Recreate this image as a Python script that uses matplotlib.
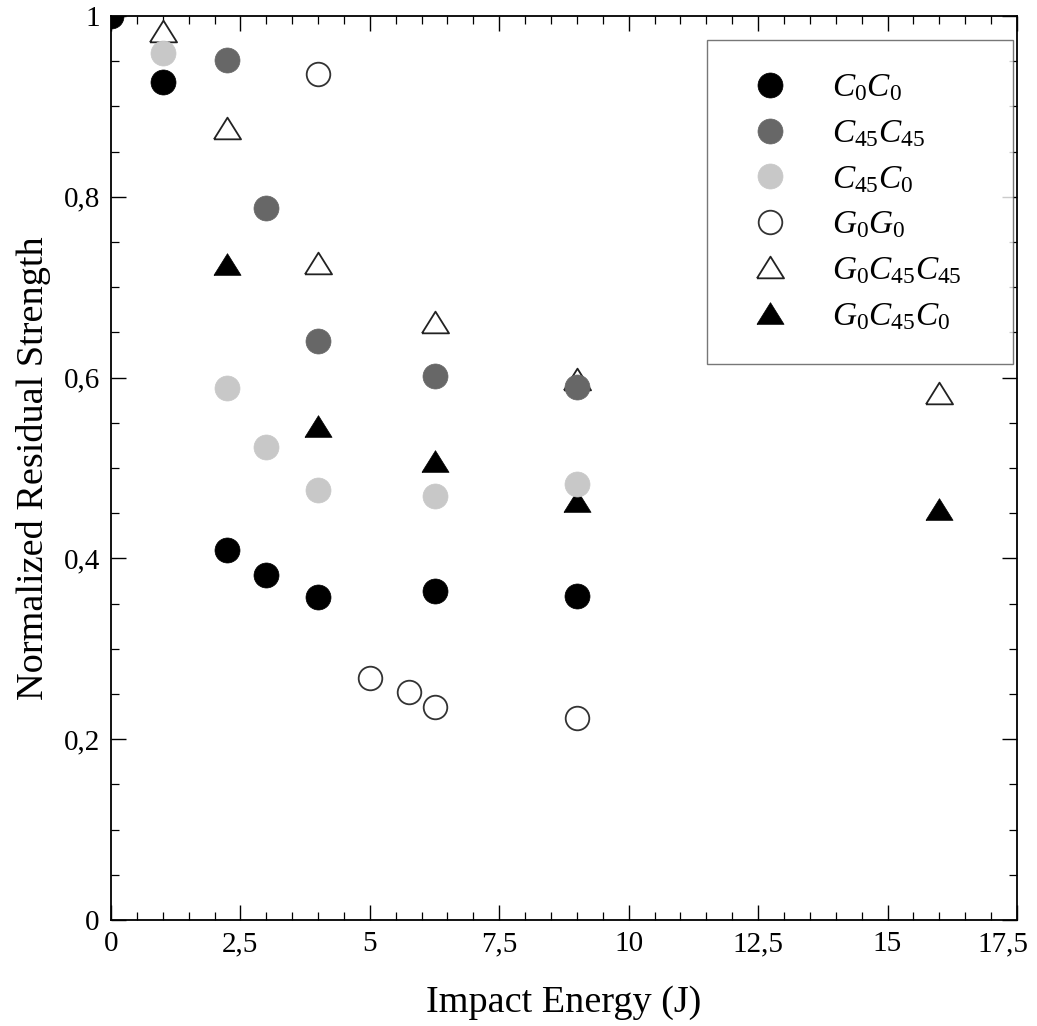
import matplotlib
matplotlib.use("Agg")
import matplotlib.pyplot as plt
from matplotlib.ticker import MultipleLocator, FixedLocator, FixedFormatter
from matplotlib.transforms import ScaledTranslation

plt.rcParams["font.family"] = ["Liberation Serif", "DejaVu Serif"]
plt.rcParams["mathtext.fontset"] = "custom"
plt.rcParams["mathtext.it"] = "Liberation Serif:italic"
plt.rcParams["mathtext.rm"] = "Liberation Serif"

# Impact energy (J) and normalized residual strength for each laminate
x_c0c0 = [0, 1, 2.25, 3, 4, 6.25, 9]
y_c0c0 = [1.0, 0.927, 0.409, 0.382, 0.357, 0.364, 0.358]

x_c45c45 = [2.25, 3, 4, 6.25, 9]
y_c45c45 = [0.951, 0.788, 0.640, 0.602, 0.590]

x_c45c0 = [1, 2.25, 3, 4, 6.25, 9]
y_c45c0 = [0.959, 0.589, 0.523, 0.476, 0.469, 0.482]

x_g0g0 = [4, 5, 5.75, 6.25, 9]
y_g0g0 = [0.936, 0.268, 0.252, 0.236, 0.224]

x_g0c45c45 = [1, 2.25, 4, 6.25, 9, 16]
y_g0c45c45 = [0.983, 0.876, 0.727, 0.661, 0.599, 0.583]

x_g0c45c0 = [2.25, 4, 6.25, 9, 16]
y_g0c45c0 = [0.726, 0.546, 0.508, 0.463, 0.455]

labels = [r"$C_0C_0$", r"$C_{45}C_{45}$", r"$C_{45}C_0$",
          r"$G_0G_0$", r"$G_0C_{45}C_{45}$", r"$G_0C_{45}C_0$"]

x_ticks = [0, 2.5, 5, 7.5, 10, 12.5, 15, 17.5]
x_ticklabels = ["0", "2,5", "5", "7,5", "10", "12,5", "15", "17,5"]
y_ticks = [0, 0.2, 0.4, 0.6, 0.8, 1.0]
y_ticklabels = ["0", "0,2", "0,4", "0,6", "0,8", "1"]

fig = plt.figure(figsize=(10.37, 10.26), dpi=100)
ax = fig.add_axes([0.1070, 0.1033, 0.8737, 0.8811])

# wide, flat triangle marker
tri = [(-1, -0.8), (1, -0.8), (0, 0.8), (-1, -0.8)]
circ_ms = 18
tri_ms = 19.5

h_g0c45c45, = ax.plot(x_g0c45c45, y_g0c45c45, ls="none", marker=tri, ms=tri_ms,
                      mfc="white", mec="#222222", mew=1.3, zorder=2)
h_g0c45c0, = ax.plot(x_g0c45c0, y_g0c45c0, ls="none", marker=tri, ms=tri_ms,
                     mfc="black", mec="black", mew=0.5, zorder=2)
h_c0c0, = ax.plot(x_c0c0, y_c0c0, ls="none", marker="o", ms=circ_ms,
                  mfc="black", mec="black", mew=0.5, zorder=3)
h_c45c45, = ax.plot(x_c45c45, y_c45c45, ls="none", marker="o", ms=circ_ms,
                    mfc="#676767", mec="#676767", mew=0.5, zorder=3)
h_c45c0, = ax.plot(x_c45c0, y_c45c0, ls="none", marker="o", ms=circ_ms,
                   mfc="#c8c8c8", mec="#c8c8c8", mew=0.5, zorder=3)
h_g0g0, = ax.plot(x_g0g0, y_g0g0, ls="none", marker="o", ms=circ_ms - 1,
                  mfc="white", mec="#333333", mew=1.3, zorder=3)

ax.set_xlim(0, 17.5)
ax.set_ylim(0, 1)

ax.xaxis.set_major_locator(FixedLocator(x_ticks))
ax.xaxis.set_major_formatter(FixedFormatter(x_ticklabels))
ax.xaxis.set_minor_locator(MultipleLocator(0.5))
ax.yaxis.set_major_locator(FixedLocator(y_ticks))
ax.yaxis.set_major_formatter(FixedFormatter(y_ticklabels))
ax.yaxis.set_minor_locator(MultipleLocator(0.05))

ax.tick_params(which="both", direction="in", top=True, right=True,
               labelsize=21, color="black")
ax.tick_params(which="major", length=11, width=1.0, pad=8)
ax.tick_params(which="minor", length=5.5, width=0.9)
for s in ax.spines.values():
    s.set_linewidth(1.3)

# pull the last x tick label inside the figure edge
fig.canvas.draw()
last = ax.get_xticklabels()[-1]
last.set_transform(last.get_transform() + ScaledTranslation(-0.14, 0, fig.dpi_scale_trans))

ax.set_xlabel("Impact Energy (J)", fontsize=27.5, labelpad=20)
ax.set_ylabel("Normalized Residual Strength", fontsize=27.5, labelpad=9)

leg = ax.legend([h_c0c0, h_c45c45, h_c45c0, h_g0g0, h_g0c45c45, h_g0c45c0], labels,
                loc="upper left", bbox_to_anchor=(0.658, 0.622, 0.338, 0.351),
                mode="expand", fontsize=24, frameon=True, fancybox=False,
                edgecolor="#555555", borderaxespad=0, borderpad=0.97,
                handlelength=1.86, handletextpad=0.92, labelspacing=0.445,
                numpoints=1)
leg.get_frame().set_linewidth(1.0)

fig.savefig("out.png", dpi=100)
